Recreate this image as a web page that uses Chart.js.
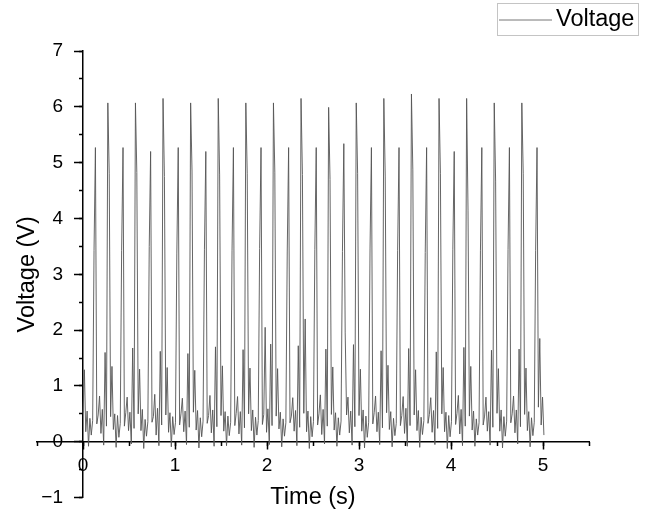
<!DOCTYPE html>
<html lang="en">
<head>
    <meta charset="UTF-8">
    <title>Voltage vs Time</title>
    <script src="https://cdn.jsdelivr.net/npm/chart.js"></script>
    <style>
        html, body { margin: 0; padding: 0; background: #ffffff; }
    </style>
</head>
<body>
    <canvas id="voltageChart" width="652" height="512"></canvas>

    <script>
        // Sampled signal: one reading every sampleStep seconds, starting at startTime
        const startTime = 0;
        const sampleStep = 0.015;

        // Voltage readings (V), one row per ~0.3 s cycle
        const voltage = [
            0.52, 1.29, 0.18, 0.55, -0.08, 0.42, 0.12, 0.38, 3.43, 5.27, 0.32, 0.48, 0.82, 0.15, 0.58, -0.06, 1.60, 0.28, 6.07, 4.80,
            0.45, 1.35, 0.22, 0.50, -0.10, 0.47, 0.08, 0.33, 3.43, 5.27, 0.28, 0.52, 0.80, 0.20, 0.53, -0.04, 1.68, 0.24, 6.07, 4.82,
            0.50, 1.30, 0.20, 0.58, -0.12, 0.40, 0.10, 0.36, 3.50, 5.20, 0.35, 0.45, 0.85, 0.12, 0.60, -0.07, 1.62, 0.30, 6.15, 4.75,
            0.48, 1.33, 0.17, 0.52, -0.09, 0.45, 0.13, 0.34, 3.38, 5.27, 0.30, 0.50, 0.78, 0.18, 0.55, -0.05, 1.58, 0.26, 6.07, 4.85,
            0.53, 1.28, 0.21, 0.56, -0.11, 0.43, 0.09, 0.37, 3.45, 5.20, 0.33, 0.47, 0.83, 0.16, 0.57, -0.08, 1.70, 0.27, 6.15, 4.78,
            0.47, 1.36, 0.19, 0.54, -0.07, 0.46, 0.11, 0.35, 3.42, 5.27, 0.29, 0.51, 0.81, 0.14, 0.54, -0.06, 1.65, 0.25, 6.07, 4.80,
            0.50, 1.32, 0.20, 0.57, -0.10, 0.44, 0.12, 0.38, 3.46, 5.27, 0.31, 0.49, 2.05, 0.17, 0.59, -0.05, 1.75, 0.29, 6.07, 4.83,
            0.46, 1.31, 0.23, 0.53, -0.09, 0.41, 0.10, 0.34, 3.40, 5.27, 0.34, 0.46, 0.79, 0.19, 0.56, -0.07, 1.72, 0.26, 6.15, 4.79,
            0.51, 2.20, 0.18, 0.55, -0.12, 0.45, 0.09, 0.36, 3.44, 5.27, 0.30, 0.50, 0.84, 0.13, 0.58, -0.04, 1.66, 0.28, 5.99, 4.70,
            0.49, 1.34, 0.21, 0.52, -0.08, 0.43, 0.12, 0.37, 3.41, 5.34, 1.95, 0.48, 0.80, 0.16, 0.55, -0.06, 1.74, 0.27, 6.07, 4.81,
            0.47, 1.30, 0.19, 0.57, -0.11, 0.46, 0.08, 0.35, 3.47, 5.27, 0.32, 0.52, 0.82, 0.18, 0.53, -0.05, 1.63, 0.25, 6.15, 4.76,
            0.52, 1.37, 0.22, 0.54, -0.09, 0.42, 0.11, 0.33, 3.43, 5.27, 0.29, 0.47, 0.81, 0.15, 0.60, -0.08, 1.67, 0.29, 6.23, 4.87,
            0.48, 1.29, 0.20, 0.56, -0.10, 0.44, 0.13, 0.38, 3.39, 5.27, 0.33, 0.49, 0.79, 0.17, 0.56, -0.05, 1.61, 0.24, 6.15, 4.80,
            0.50, 1.33, 0.18, 0.53, -0.12, 0.47, 0.09, 0.36, 3.45, 5.20, 0.31, 0.51, 0.83, 0.14, 0.58, -0.07, 1.69, 0.28, 6.15, 4.15,
            0.46, 1.35, 0.21, 0.55, -0.08, 0.41, 0.12, 0.34, 3.42, 5.27, 0.30, 0.46, 0.80, 0.19, 0.54, -0.06, 1.64, 0.26, 6.07, 4.67,
            0.51, 1.31, 0.19, 0.57, -0.11, 0.45, 0.10, 0.37, 3.44, 5.27, 0.34, 0.50, 0.82, 0.16, 0.57, -0.04, 1.66, 0.27, 6.07, 4.80,
            0.49, 1.32, 0.20, 0.54, -0.09, 0.43, 0.11, 0.35, 3.43, 5.27, 0.62, 1.85, 0.30, 0.80, 0.12
        ];

        const xTicks = [0, 1, 2, 3, 4, 5];
        const xTickLabels = ['0', '1', '2', '3', '4', '5'];
        const yTicks = [-1, 0, 1, 2, 3, 4, 5, 6, 7];
        const yTickLabels = ['\u22121', '0', '1', '2', '3', '4', '5', '6', '7'];

        const tickFont = { family: '"Liberation Sans", Arial, sans-serif', size: 19 };
        const titleFont = '23.5px "Liberation Sans", Arial, sans-serif';

        // y labels on a value-positioned axis sit right on the axis line; push them left of the ticks
        const yLabelShift = {
            id: 'yLabelShift',
            beforeDraw(chart) {
                const items = chart.scales.y.getLabelItems(chart.chartArea);
                if (items._shifted) return;
                items.forEach(it => { it.options.translation[0] -= 20; });
                items._shifted = true;
            }
        };

        // Axis titles and boxed legend
        const decorations = {
            id: 'decorations',
            afterDraw(chart) {
                const { ctx, chartArea } = chart;
                const ds = chart.data.datasets[0];
                ctx.save();
                ctx.fillStyle = '#000';
                ctx.font = titleFont;
                ctx.textBaseline = 'middle';

                ctx.textAlign = 'center';
                ctx.fillText('Time (s)', (chartArea.left + chartArea.right) / 2, chartArea.bottom);

                ctx.save();
                ctx.translate(28, (chartArea.top + chartArea.bottom) / 2);
                ctx.rotate(-Math.PI / 2);
                ctx.fillText('Voltage (V)', 0, 0);
                ctx.restore();

                // legend
                ctx.strokeStyle = '#c4c4c4';
                ctx.lineWidth = 1;
                ctx.strokeRect(497.5, 3.5, 141, 32);
                ctx.strokeStyle = '#777';
                ctx.beginPath();
                ctx.moveTo(499, 20);
                ctx.lineTo(552, 20);
                ctx.stroke();
                ctx.textAlign = 'left';
                ctx.fillText(ds.label, 556, 20);
                ctx.restore();
            }
        };

        function initializeVoltageChart() {
            const ctx = document.getElementById('voltageChart').getContext('2d');
            const points = voltage.map((v, i) => ({ x: startTime + i * sampleStep, y: v }));

            new Chart(ctx, {
                type: 'line',
                data: {
                    datasets: [{
                        label: 'Voltage',
                        data: points,
                        borderColor: '#555555',
                        borderWidth: 0.9,
                        pointRadius: 0,
                        tension: 0,
                        xAxisID: 'x',
                        yAxisID: 'y'
                    }]
                },
                options: {
                    responsive: false,
                    animation: false,
                    layout: { padding: { left: 37, right: 63, top: 51, bottom: 14 } },
                    plugins: {
                        legend: { display: false },
                        tooltip: { enabled: false }
                    },
                    scales: {
                        x: {
                            type: 'linear',
                            position: { y: 0 },
                            min: -0.5,
                            max: 5.5,
                            afterBuildTicks: s => { s.ticks = xTicks.map(v => ({ value: v })); },
                            afterFit: s => { s.height = 0; },
                            grid: { drawOnChartArea: false, tickLength: 7, tickColor: '#000', tickWidth: 1.5 },
                            border: { display: true, color: '#000', width: 1.5 },
                            ticks: {
                                font: tickFont, color: '#000', padding: 6, maxRotation: 0, autoSkip: false,
                                callback: v => xTickLabels[xTicks.indexOf(v)]
                            }
                        },
                        xMinor: {
                            type: 'linear',
                            position: { y: 0 },
                            min: -0.5,
                            max: 5.5,
                            afterFit: s => { s.height = 0; },
                            grid: { drawOnChartArea: false, tickLength: 4, tickColor: '#000', tickWidth: 1.5 },
                            border: { display: false },
                            ticks: { display: false, stepSize: 0.5 }
                        },
                        y: {
                            type: 'linear',
                            position: { x: 0 },
                            min: -1,
                            max: 7,
                            afterBuildTicks: s => { s.ticks = yTicks.map(v => ({ value: v })); },
                            afterFit: s => { s.width = 0; },
                            grid: { drawOnChartArea: false, tickLength: 8, tickColor: '#000', tickWidth: 1.5 },
                            border: { display: true, color: '#000', width: 1.5 },
                            ticks: {
                                font: tickFont, color: '#000', autoSkip: false,
                                callback: v => yTickLabels[yTicks.indexOf(v)]
                            }
                        },
                        yMinor: {
                            type: 'linear',
                            position: { x: 0 },
                            min: -1,
                            max: 7,
                            afterFit: s => { s.width = 0; },
                            grid: { drawOnChartArea: false, tickLength: 4, tickColor: '#000', tickWidth: 1.5 },
                            border: { display: false },
                            ticks: { display: false, stepSize: 0.5 }
                        }
                    }
                },
                plugins: [yLabelShift, decorations]
            });
        }

        initializeVoltageChart();
    </script>
</body>
</html>
